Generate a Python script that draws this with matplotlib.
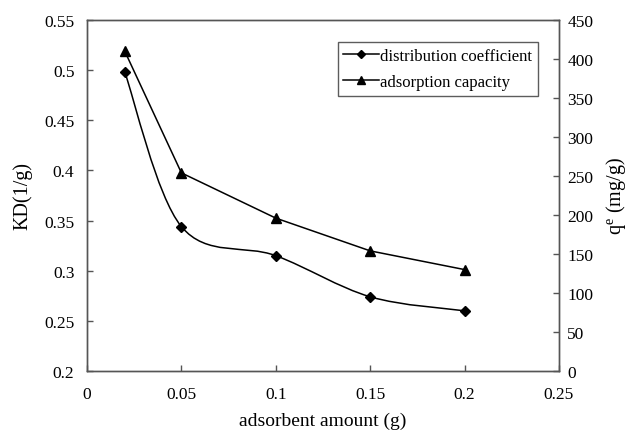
import matplotlib
matplotlib.use("Agg")
import matplotlib.pyplot as plt
from matplotlib.path import Path
from matplotlib.patches import PathPatch
from matplotlib.lines import Line2D

# ---- data ----
adsorbent_amount = [0.02, 0.05, 0.10, 0.15, 0.20]
distribution_coefficient = [0.498, 0.344, 0.315, 0.274, 0.260]
adsorption_capacity = [410, 254, 196, 154, 130]

x_ticks = [0, 0.05, 0.1, 0.15, 0.2, 0.25]
x_ticklabels = ["0", "0.05", "0.1", "0.15", "0.2", "0.25"]
kd_ticks = [0.2, 0.25, 0.3, 0.35, 0.4, 0.45, 0.5, 0.55]
kd_ticklabels = ["0.2", "0.25", "0.3", "0.35", "0.4", "0.45", "0.5", "0.55"]
q_ticks = [0, 50, 100, 150, 200, 250, 300, 350, 400, 450]

plt.rcParams['font.family'] = ['Liberation Serif', 'DejaVu Serif']
plt.rcParams['mathtext.fontset'] = 'custom'
plt.rcParams['mathtext.rm'] = 'Liberation Serif'
plt.rcParams['mathtext.it'] = 'Liberation Serif:italic'

fig = plt.figure(figsize=(6.29, 4.31), dpi=100)
ax = fig.add_axes([87/629, 1 - 372/431, (559-87)/629, (372-21)/431])
ax2 = ax.twinx()

spine_col = '#555555'
for a in (ax, ax2):
    for s in a.spines.values():
        s.set_color(spine_col)
        s.set_linewidth(1.0)

ax.set_xlim(0, 0.25)
ax.set_ylim(0.2, 0.55)
ax2.set_ylim(0, 450)

ax.set_xticks(x_ticks)
ax.set_xticklabels(x_ticklabels)
ax.set_yticks(kd_ticks)
ax.set_yticklabels(kd_ticklabels)
ax2.set_yticks(q_ticks)
ax2.set_yticklabels([str(v) for v in q_ticks])

tick_fs = 12.5
ax.tick_params(axis='both', direction='in', length=4, width=1.0, color=spine_col,
               labelsize=tick_fs)
ax.tick_params(axis='x', pad=11)
ax.tick_params(axis='y', pad=9)
ax2.tick_params(axis='y', direction='in', length=4, width=1.0, color=spine_col,
                labelsize=tick_fs, pad=6)

# smoothed (Excel-like Catmull-Rom Bezier) path for distribution coefficient
def smooth_path(xs, ys):
    n = len(xs)
    verts = [(xs[0], ys[0])]
    codes = [Path.MOVETO]
    for i in range(n - 1):
        ip = max(i - 1, 0)
        inn = min(i + 2, n - 1)
        c1 = (xs[i] + (xs[i+1] - xs[ip]) / 6.0, ys[i] + (ys[i+1] - ys[ip]) / 6.0)
        c2 = (xs[i+1] - (xs[inn] - xs[i]) / 6.0, ys[i+1] - (ys[inn] - ys[i]) / 6.0)
        verts += [c1, c2, (xs[i+1], ys[i+1])]
        codes += [Path.CURVE4] * 3
    return Path(verts, codes)

patch = PathPatch(smooth_path(adsorbent_amount, distribution_coefficient),
                  facecolor='none', edgecolor='black', lw=1.1, transform=ax.transData)
ax.add_patch(patch)
ax.plot(adsorbent_amount, distribution_coefficient, linestyle='none', marker='D',
        ms=5, color='black', zorder=3)

ax2.plot(adsorbent_amount, adsorption_capacity, '-', marker='^', ms=6.5,
         color='black', lw=1.1)

ax.set_xlabel('adsorbent amount (g)', fontsize=14)
ax.xaxis.set_label_coords(0.5, -0.115)
ax.set_ylabel('KD(1/g)', fontsize=14.5)
ax.yaxis.set_label_coords(-0.115, 0.5)
ax2.set_ylabel(r'q$^{\mathrm{e}}$ (mg/g)', fontsize=14.5)
ax2.yaxis.set_label_coords(1.095, 0.5)

handles = [Line2D([], [], color='black', lw=1.1, marker='D', ms=4.5),
           Line2D([], [], color='black', lw=1.1, marker='^', ms=6)]
leg = ax2.legend(handles, ['distribution coefficient', 'adsorption capacity'],
                 loc='upper right', bbox_to_anchor=(538/629, 1 - 43/431),
                 bbox_transform=fig.transFigure, borderaxespad=0,
                 fontsize=12, frameon=True, fancybox=False, edgecolor='#333333',
                 handlelength=2.15, handletextpad=0.05, labelspacing=0.6,
                 borderpad=0.35, markerscale=1.0)
leg.get_frame().set_linewidth(1.0)

fig.savefig('out.png', dpi=100)
